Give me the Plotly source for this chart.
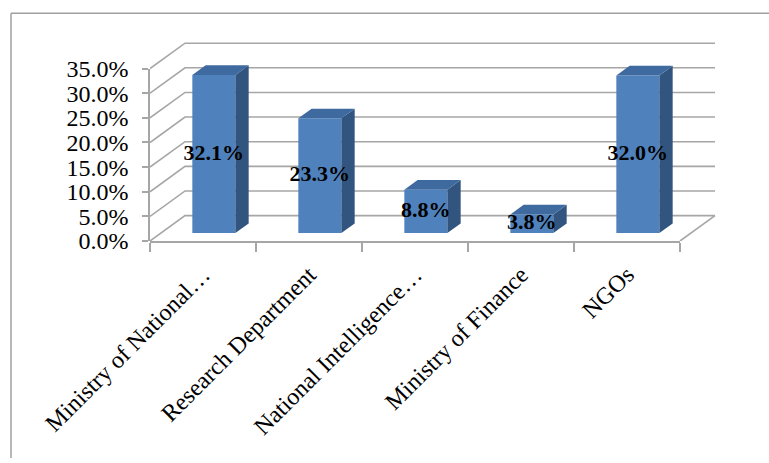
import plotly.graph_objects as go

# ---- data ----
categories = ["Ministry of National\u2026", "Research Department",
              "National Intelligence\u2026", "Ministry of Finance", "NGOs"]
values = [32.1, 23.3, 8.8, 3.8, 32.0]
ytick_values = [0, 5, 10, 15, 20, 25, 30, 35]
ytick_labels = [f"{v:.1f}%" for v in ytick_values]

# ---- geometry (pixel layout -> data units) ----
W, H = 769, 463
ML, MR, MT, MB = 150, 40, 20, 222
PW, PH = W - ML - MR, H - MT - MB
PX_PER_CAT = 106.0
PX_PER_PCT = 5.04
x_lo = -0.5
x_hi = x_lo + PW / PX_PER_CAT
y_hi = PH / PX_PER_PCT

DX = 35 / PX_PER_CAT      # full depth offset in x (category units)
DY = 26 / PX_PER_PCT      # full depth offset in y (percent units)
front_frac, depth_frac = 0.31, 0.38
fx, fy = front_frac * DX, front_frac * DY
sdx, sdy = depth_frac * DX, depth_frac * DY
bw = 0.406

FRONT, TOP, SIDE = "#4F81BD", "#3F6A9F", "#32557F"
GRID = "#A6A6A6"
SERIF = "Liberation Serif, Times New Roman, serif"

n = len(categories)
xs = [i + fx for i in range(n)]

fig = go.Figure()

# front faces
fig.add_trace(go.Bar(x=xs, y=values, base=[fy] * n, width=bw,
                     marker=dict(color=FRONT, line=dict(width=0)),
                     textposition="none", hoverinfo="skip", showlegend=False))

# side and top faces
for x, v in zip(xs, values):
    xl, xr = x - bw / 2, x + bw / 2
    b, t = fy, fy + v
    fig.add_trace(go.Scatter(
        x=[xr, xr + sdx, xr + sdx, xr, xr], y=[b, b + sdy, t + sdy, t, b],
        mode="lines", fill="toself", fillcolor=SIDE, line=dict(width=0, color=SIDE),
        hoverinfo="skip", showlegend=False))
    fig.add_trace(go.Scatter(
        x=[xl, xr, xr + sdx, xl + sdx, xl], y=[t, t, t + sdy, t + sdy, t],
        mode="lines", fill="toself", fillcolor=TOP, line=dict(width=0, color=TOP),
        hoverinfo="skip", showlegend=False))

# value labels
fig.add_trace(go.Scatter(
    x=xs, y=[fy + v / 2 for v in values], mode="text",
    text=[f"{v:.1f}%" for v in values],
    textfont=dict(family=SERIF, size=22, color="black", weight="bold"),
    cliponaxis=False, hoverinfo="skip", showlegend=False))

# dummy traces for helper axes
fig.add_trace(go.Scatter(x=[0], y=[0], xaxis="x2", yaxis="y", mode="markers",
                         marker=dict(opacity=0), hoverinfo="skip", showlegend=False))
fig.add_trace(go.Scatter(x=[0], y=[0], xaxis="x", yaxis="y2", mode="markers",
                         marker=dict(opacity=0), hoverinfo="skip", showlegend=False))

# back wall gridlines + side wall diagonals (below traces)
shapes = []
x_right = x_lo + n
for v in ytick_values:
    path = (f"M {x_lo},{v} L {x_lo + DX},{v + DY} L {x_right + DX},{v + DY}")
    shapes.append(dict(type="path", path=path, xref="x", yref="y", layer="below",
                       line=dict(color=GRID, width=1.6)))
# right floor edge
shapes.append(dict(type="line", x0=x_right, y0=0, x1=x_right + DX, y1=DY,
                   xref="x", yref="y", layer="below", line=dict(color=GRID, width=1.6)))
# outer frame (top and left only)
fx0 = (11 - ML) / PW
fy_top = (H - MB - 8) / PH
fy_bot = -MB / PH
shapes.append(dict(type="line", xref="paper", yref="paper", x0=fx0, y0=fy_top,
                   x1=(W - ML) / PW, y1=fy_top, line=dict(color="#A0A0A0", width=1.5)))
shapes.append(dict(type="line", xref="paper", yref="paper", x0=fx0, y0=fy_top,
                   x1=fx0, y1=fy_bot, line=dict(color="#A0A0A0", width=1.5)))

fig.update_layout(
    width=W, height=H,
    margin=dict(l=ML, r=MR, t=MT, b=MB, pad=0),
    paper_bgcolor="white", plot_bgcolor="rgba(0,0,0,0)",
    shapes=shapes,
    showlegend=False,
    xaxis=dict(range=[x_lo, x_hi], domain=[0, 1], showgrid=False, zeroline=False,
               showline=False, ticks="", tickmode="array",
               tickvals=list(range(n)), ticktext=categories, tickangle=-45,
               tickfont=dict(family=SERIF, size=24, color="black"),
               ticklabelstandoff=14, fixedrange=True),
    xaxis2=dict(range=[x_lo, x_lo + n], domain=[0, n * PX_PER_CAT / PW], anchor="y",
                showgrid=False, zeroline=False, showline=True, linecolor=GRID,
                linewidth=1.6, ticks="outside", ticklen=9, tickcolor=GRID, tickwidth=1.5,
                tickmode="array", tickvals=[x_lo + k for k in range(n + 1)],
                showticklabels=False, fixedrange=True),
    yaxis=dict(range=[0, y_hi], domain=[0, 1], visible=False, fixedrange=True),
    yaxis2=dict(range=[0, ytick_values[-1]],
                domain=[0, ytick_values[-1] * PX_PER_PCT / PH], anchor="x",
                showgrid=False, zeroline=False, showline=True, linecolor=GRID,
                linewidth=1.6, ticks="outside", ticklen=6, tickcolor=GRID, tickwidth=1.5,
                tickmode="array", tickvals=ytick_values, ticktext=ytick_labels,
                tickfont=dict(family=SERIF, size=24, color="black"),
                ticklabelstandoff=9, fixedrange=True),
)

fig.write_html("out.html", config={"displayModeBar": False})
